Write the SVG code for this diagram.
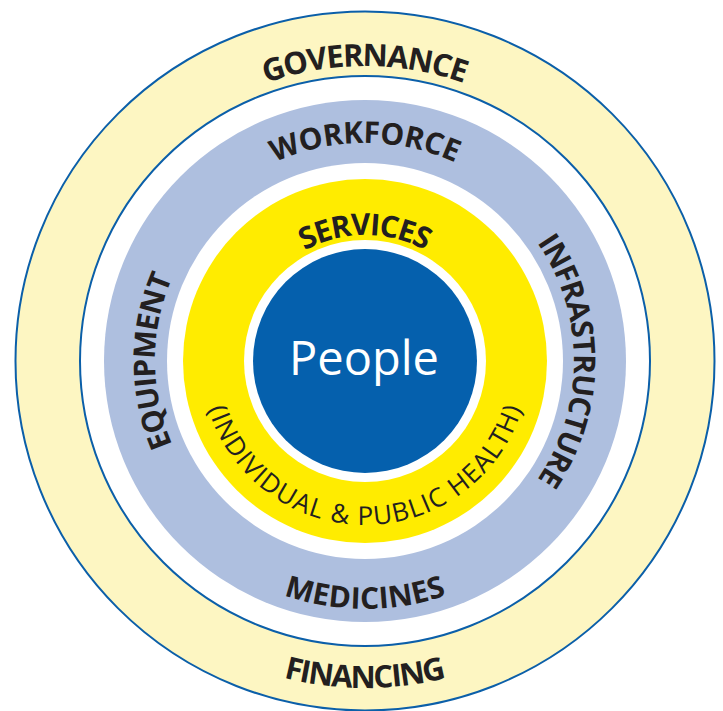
<svg xmlns="http://www.w3.org/2000/svg" width="723" height="711" viewBox="0 0 723 711">
  <style>
    .lbl { font-family: "Open Sans", "Liberation Sans", sans-serif; font-weight: 700; fill: #231F20; }
    .sub { font-family: "Open Sans", "Liberation Sans", sans-serif; font-weight: 400; fill: #231F20; }
    .ring { stroke: #0B5FA9; stroke-width: 2; }
  </style>
  <defs>
    <path id="pGov" d="M 70 361 A 295 295 0 0 1 660 361"/>
    <path id="pFin" d="M 38 361 A 327 327 0 0 0 692 361"/>
    <path id="pWork" d="M 147 361 A 218 218 0 0 1 583 361"/>
    <path id="pMed" d="M 117 361 A 248 248 0 0 0 613 361"/>
    <path id="pEquip" d="M 365 571 A 210 210 0 0 1 365 151"/>
    <path id="pInfra" d="M 365 152 A 209 209 0 0 1 365 570"/>
    <path id="pServ" d="M 239 361 A 126 126 0 0 1 491 361"/>
    <path id="pHealth" d="M 201 361 A 164 164 0 0 0 529 361"/>
  </defs>
  <rect width="723" height="711" fill="#FFFFFF"/>

  <g id="governance-financing">
    <circle class="ring" cx="365" cy="361" r="349.5" fill="#FDF6C2"/>
    <circle class="ring" cx="365" cy="361" r="285" fill="#FFFFFF"/>
    <text class="lbl" font-size="31"><textPath href="#pGov" startOffset="50%" text-anchor="middle" textLength="202" lengthAdjust="spacing">GOVERNANCE</textPath></text>
    <text class="lbl" font-size="31"><textPath href="#pFin" startOffset="50%" text-anchor="middle" textLength="165" lengthAdjust="spacing">FINANCING</textPath></text>
  </g>

  <g id="resources">
    <circle cx="365" cy="361" r="261" fill="#AEBFDF"/>
    <circle cx="365" cy="361" r="198" fill="#FFFFFF"/>
    <text class="lbl" font-size="30"><textPath href="#pWork" startOffset="50%" text-anchor="middle" textLength="186" lengthAdjust="spacing">WORKFORCE</textPath></text>
    <text class="lbl" font-size="30"><textPath href="#pMed" startOffset="50%" text-anchor="middle" textLength="166" lengthAdjust="spacing">MEDICINES</textPath></text>
    <text class="lbl" font-size="30"><textPath href="#pEquip" startOffset="50%" text-anchor="middle" textLength="172" lengthAdjust="spacing">EQUIPMENT</textPath></text>
    <text class="lbl" font-size="30"><textPath href="#pInfra" startOffset="50%" text-anchor="middle" textLength="252" lengthAdjust="spacing">INFRASTRUCTURE</textPath></text>
  </g>

  <g id="services">
    <circle cx="365" cy="361" r="182" fill="#FFEC00"/>
    <circle cx="365" cy="361" r="121" fill="#FFFFFF"/>
    <text class="lbl" font-size="30"><textPath href="#pServ" startOffset="50%" text-anchor="middle" textLength="126" lengthAdjust="spacing">SERVICES</textPath></text>
    <text class="sub" font-size="26"><textPath href="#pHealth" startOffset="50%" text-anchor="middle" textLength="418" lengthAdjust="spacing">(INDIVIDUAL &amp; PUBLIC HEALTH)</textPath></text>
  </g>

  <g id="people">
    <circle cx="365" cy="361" r="112" fill="#0560AD"/>
    <text x="364" y="375" font-family="'Open Sans', 'Liberation Sans', sans-serif" font-size="47" fill="#FFFFFF" text-anchor="middle">People</text>
  </g>

  <g id="connectors"/>
</svg>
